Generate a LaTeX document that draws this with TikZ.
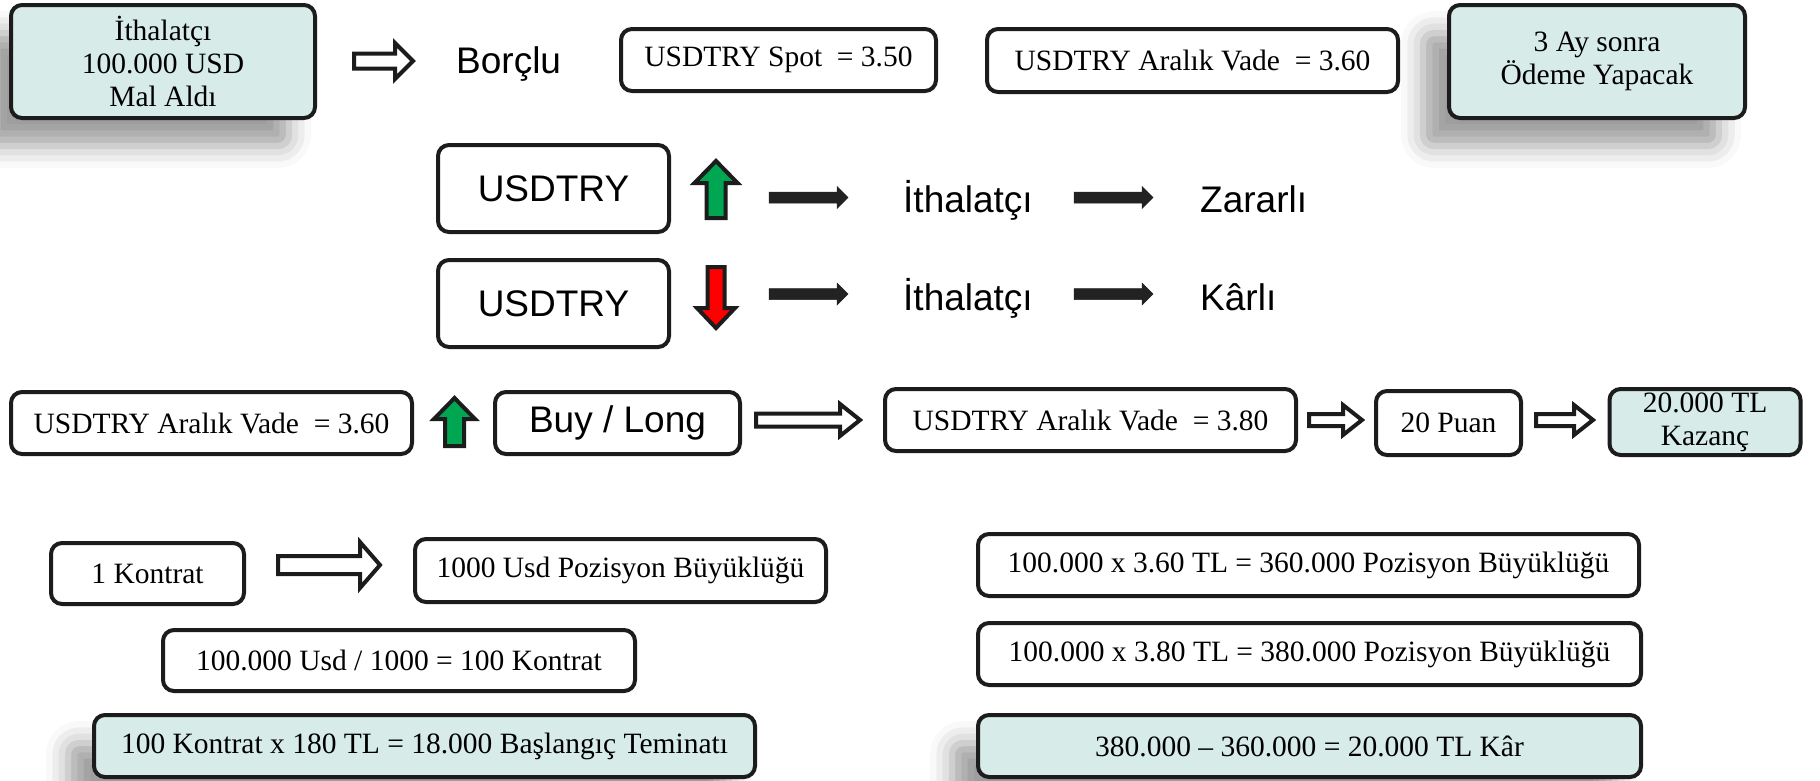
\documentclass[tikz,border=0pt]{standalone}
\usepackage{fontspec}
\setmainfont{Liberation Serif}
\setsansfont{Liberation Sans}
\usetikzlibrary{calc,shadows.blur}
\definecolor{boxcyan}{RGB}{215,235,233}
\definecolor{bordercol}{RGB}{28,28,28}
\definecolor{upgreen}{RGB}{0,166,81}
\definecolor{downred}{RGB}{255,0,0}
\definecolor{arrowblack}{RGB}{34,34,34}
\newcommand\serifsz{\fontsize{29.5}{33}\selectfont}
\newcommand\sanssz{\sffamily\fontsize{37}{44}\selectfont}
\newcommand\hblockarrow[6]{%
 \draw[#1] let \p1=(#2), \p2=(#3) in
 ({\x1},{\y1+#4}) -- ({\x2-#6},{\y1+#4}) -- ({\x2-#6},{\y1+#5}) -- ({\x2},{\y1})
 -- ({\x2-#6},{\y1-#5}) -- ({\x2-#6},{\y1-#4}) -- ({\x1},{\y1-#4}) -- cycle;}
\newcommand\vblockarrow[6]{%
 \draw[#1] let \p1=(#2), \p2=(#3) in
 ({\x1-#4},{\y1}) -- ({\x1-#4},{\y2-(#6)}) -- ({\x1-#5},{\y2-(#6)}) -- ({\x1},{\y2})
 -- ({\x1+#5},{\y2-(#6)}) -- ({\x1+#4},{\y2-(#6)}) -- ({\x1+#4},{\y1}) -- cycle;}
\tikzset{
 box/.style={draw=bordercol, line width=4pt, rounded corners=11pt, fill=white, inner sep=0pt, align=center, font=\serifsz},
 cyanbox/.style={box, fill=boxcyan},
 shadowed/.style={blur shadow={shadow xshift=-26pt, shadow yshift=-28pt, shadow blur radius=22pt, shadow opacity=38}},
 sansbox/.style={box, font=\sanssz},
 plainlabel/.style={font=\sanssz, inner sep=0pt},
 hollow/.style={draw=bordercol, line width=4pt, fill=white, line join=miter},
 solidarrow/.style={fill=arrowblack, draw=arrowblack, line width=0.5pt, line join=miter},
 uparr/.style={draw=bordercol, line width=4pt, fill=upgreen, line join=miter},
 downarr/.style={draw=bordercol, line width=4pt, fill=downred, line join=miter},
}
\begin{document}
\begin{tikzpicture}[x=1pt,y=-1pt]
\useasboundingbox (0,0) rectangle (1820,780);

% top row
\node[cyanbox, shadowed, minimum width=304pt, minimum height=113pt] (imp) at (163,61.5) {İthalatçı\\100.000 USD\\Mal Aldı};
\node[plainlabel, anchor=base west] (borc) at (456,73) {Borçlu};
\node[box, minimum width=315pt, minimum height=62pt] (spot) at (778.5,60) {USDTRY Spot~ = 3.50};
\node[box, minimum width=411pt, minimum height=63pt] (vade1) at (1192.5,60.5) {USDTRY Aralık Vade~ = 3.60};
\node[cyanbox, shadowed, minimum width=296pt, minimum height=113pt] (pay) at (1597,61.5) {3 Ay sonra\\Ödeme Yapacak};

% row 2
\node[sansbox, minimum width=231pt, minimum height=87pt] (usd1) at (553.5,188.5) {USDTRY};
\node[plainlabel, anchor=base west] (imp1) at (903,212) {İthalatçı};
\node[plainlabel, anchor=base west] (zarar) at (1200,212) {Zararlı};
% row 3
\node[sansbox, minimum width=231pt, minimum height=87pt] (usd2) at (553.5,303.5) {USDTRY};
\node[plainlabel, anchor=base west] (imp2) at (903,310) {İthalatçı};
\node[plainlabel, anchor=base west] (karli) at (1200,310) {Kârlı};

% row 4
\node[box, minimum width=401pt, minimum height=62pt] (vade2) at (211.5,423) {USDTRY Aralık Vade~ = 3.60};
\node[sansbox, minimum width=245pt, minimum height=62pt] (buy) at (617.5,423) {Buy / Long};
\node[box, minimum width=411pt, minimum height=62pt] (vade3) at (1090.5,420) {USDTRY Aralık Vade~ = 3.80};
\node[box, minimum width=145pt, minimum height=64pt] (puan) at (1448.5,423) {20 Puan};
\node[cyanbox, minimum width=191pt, minimum height=66pt] (kazanc) at (1705,422) {20.000 TL\\Kazanç};

% lower left
\node[box, minimum width=193pt, minimum height=61pt] (kontrat) at (147.5,573.5) {1 Kontrat};
\node[box, minimum width=411pt, minimum height=63pt] (usdpoz) at (620.5,570.5) {1000 Usd Pozisyon Büyüklüğü};
\node[box, minimum width=472pt, minimum height=61pt] (kdiv) at (399,660.5) {100.000 Usd / 1000 = 100 Kontrat};
\node[cyanbox, shadowed, minimum width=661pt, minimum height=62pt] (temin) at (424.5,746) {100 Kontrat x 180 TL = 18.000 Başlangıç Teminatı};

% lower right
\node[box, minimum width=661pt, minimum height=62pt] (poz1) at (1308.5,565) {100.000 x 3.60 TL = 360.000 Pozisyon Büyüklüğü};
\node[box, minimum width=663pt, minimum height=62pt] (poz2) at (1309.5,654) {100.000 x 3.80 TL = 380.000 Pozisyon Büyüklüğü};
\node[cyanbox, shadowed, minimum width=663pt, minimum height=62pt] (kar) at (1309.5,746) {380.000 – 360.000 = 20.000 TL Kâr};

% arrow end points
\coordinate (h1s) at (354,61);   \coordinate (h1e) at (413,61);
\coordinate (h2s) at (756,420);  \coordinate (h2e) at (860,420);
\coordinate (h3s) at (1309,420); \coordinate (h3e) at (1362,420);
\coordinate (h4s) at (1536,420); \coordinate (h4e) at (1593,420);
\coordinate (h5s) at (278,565);  \coordinate (h5e) at (380,565);
\coordinate (b1s) at (769,197.5);  \coordinate (b1e) at (848,197.5);
\coordinate (b2s) at (1074,197.5); \coordinate (b2e) at (1153,197.5);
\coordinate (b3s) at (769,294);  \coordinate (b3e) at (848,294);
\coordinate (b4s) at (1074,294); \coordinate (b4e) at (1153,294);
\coordinate (u1s) at (716,218);  \coordinate (u1e) at (716,161);
\coordinate (d1s) at (716,267);  \coordinate (d1e) at (716,328);
\coordinate (u2s) at (454.5,446); \coordinate (u2e) at (454.5,398);

% hollow arrows
\hblockarrow{hollow}{h1s}{h1e}{7.5pt}{18pt}{18pt}
\hblockarrow{hollow}{h2s}{h2e}{6.5pt}{16pt}{20pt}
\hblockarrow{hollow}{h3s}{h3e}{6pt}{15pt}{19pt}
\hblockarrow{hollow}{h4s}{h4e}{6pt}{15pt}{19pt}
\hblockarrow{hollow}{h5s}{h5e}{9pt}{23pt}{20pt}
% solid arrows
\hblockarrow{solidarrow}{b1s}{b1e}{5.5pt}{11pt}{11pt}
\hblockarrow{solidarrow}{b2s}{b2e}{5.5pt}{11pt}{11pt}
\hblockarrow{solidarrow}{b3s}{b3e}{5.5pt}{11pt}{11pt}
\hblockarrow{solidarrow}{b4s}{b4e}{5.5pt}{11pt}{11pt}
% vertical arrows
\vblockarrow{uparr}{u1s}{u1e}{9.5pt}{21.5pt}{22pt}
\vblockarrow{downarr}{d1s}{d1e}{8.5pt}{19pt}{-20pt}
\vblockarrow{uparr}{u2s}{u2e}{9.5pt}{20.5pt}{21pt}
\end{tikzpicture}
\end{document}
